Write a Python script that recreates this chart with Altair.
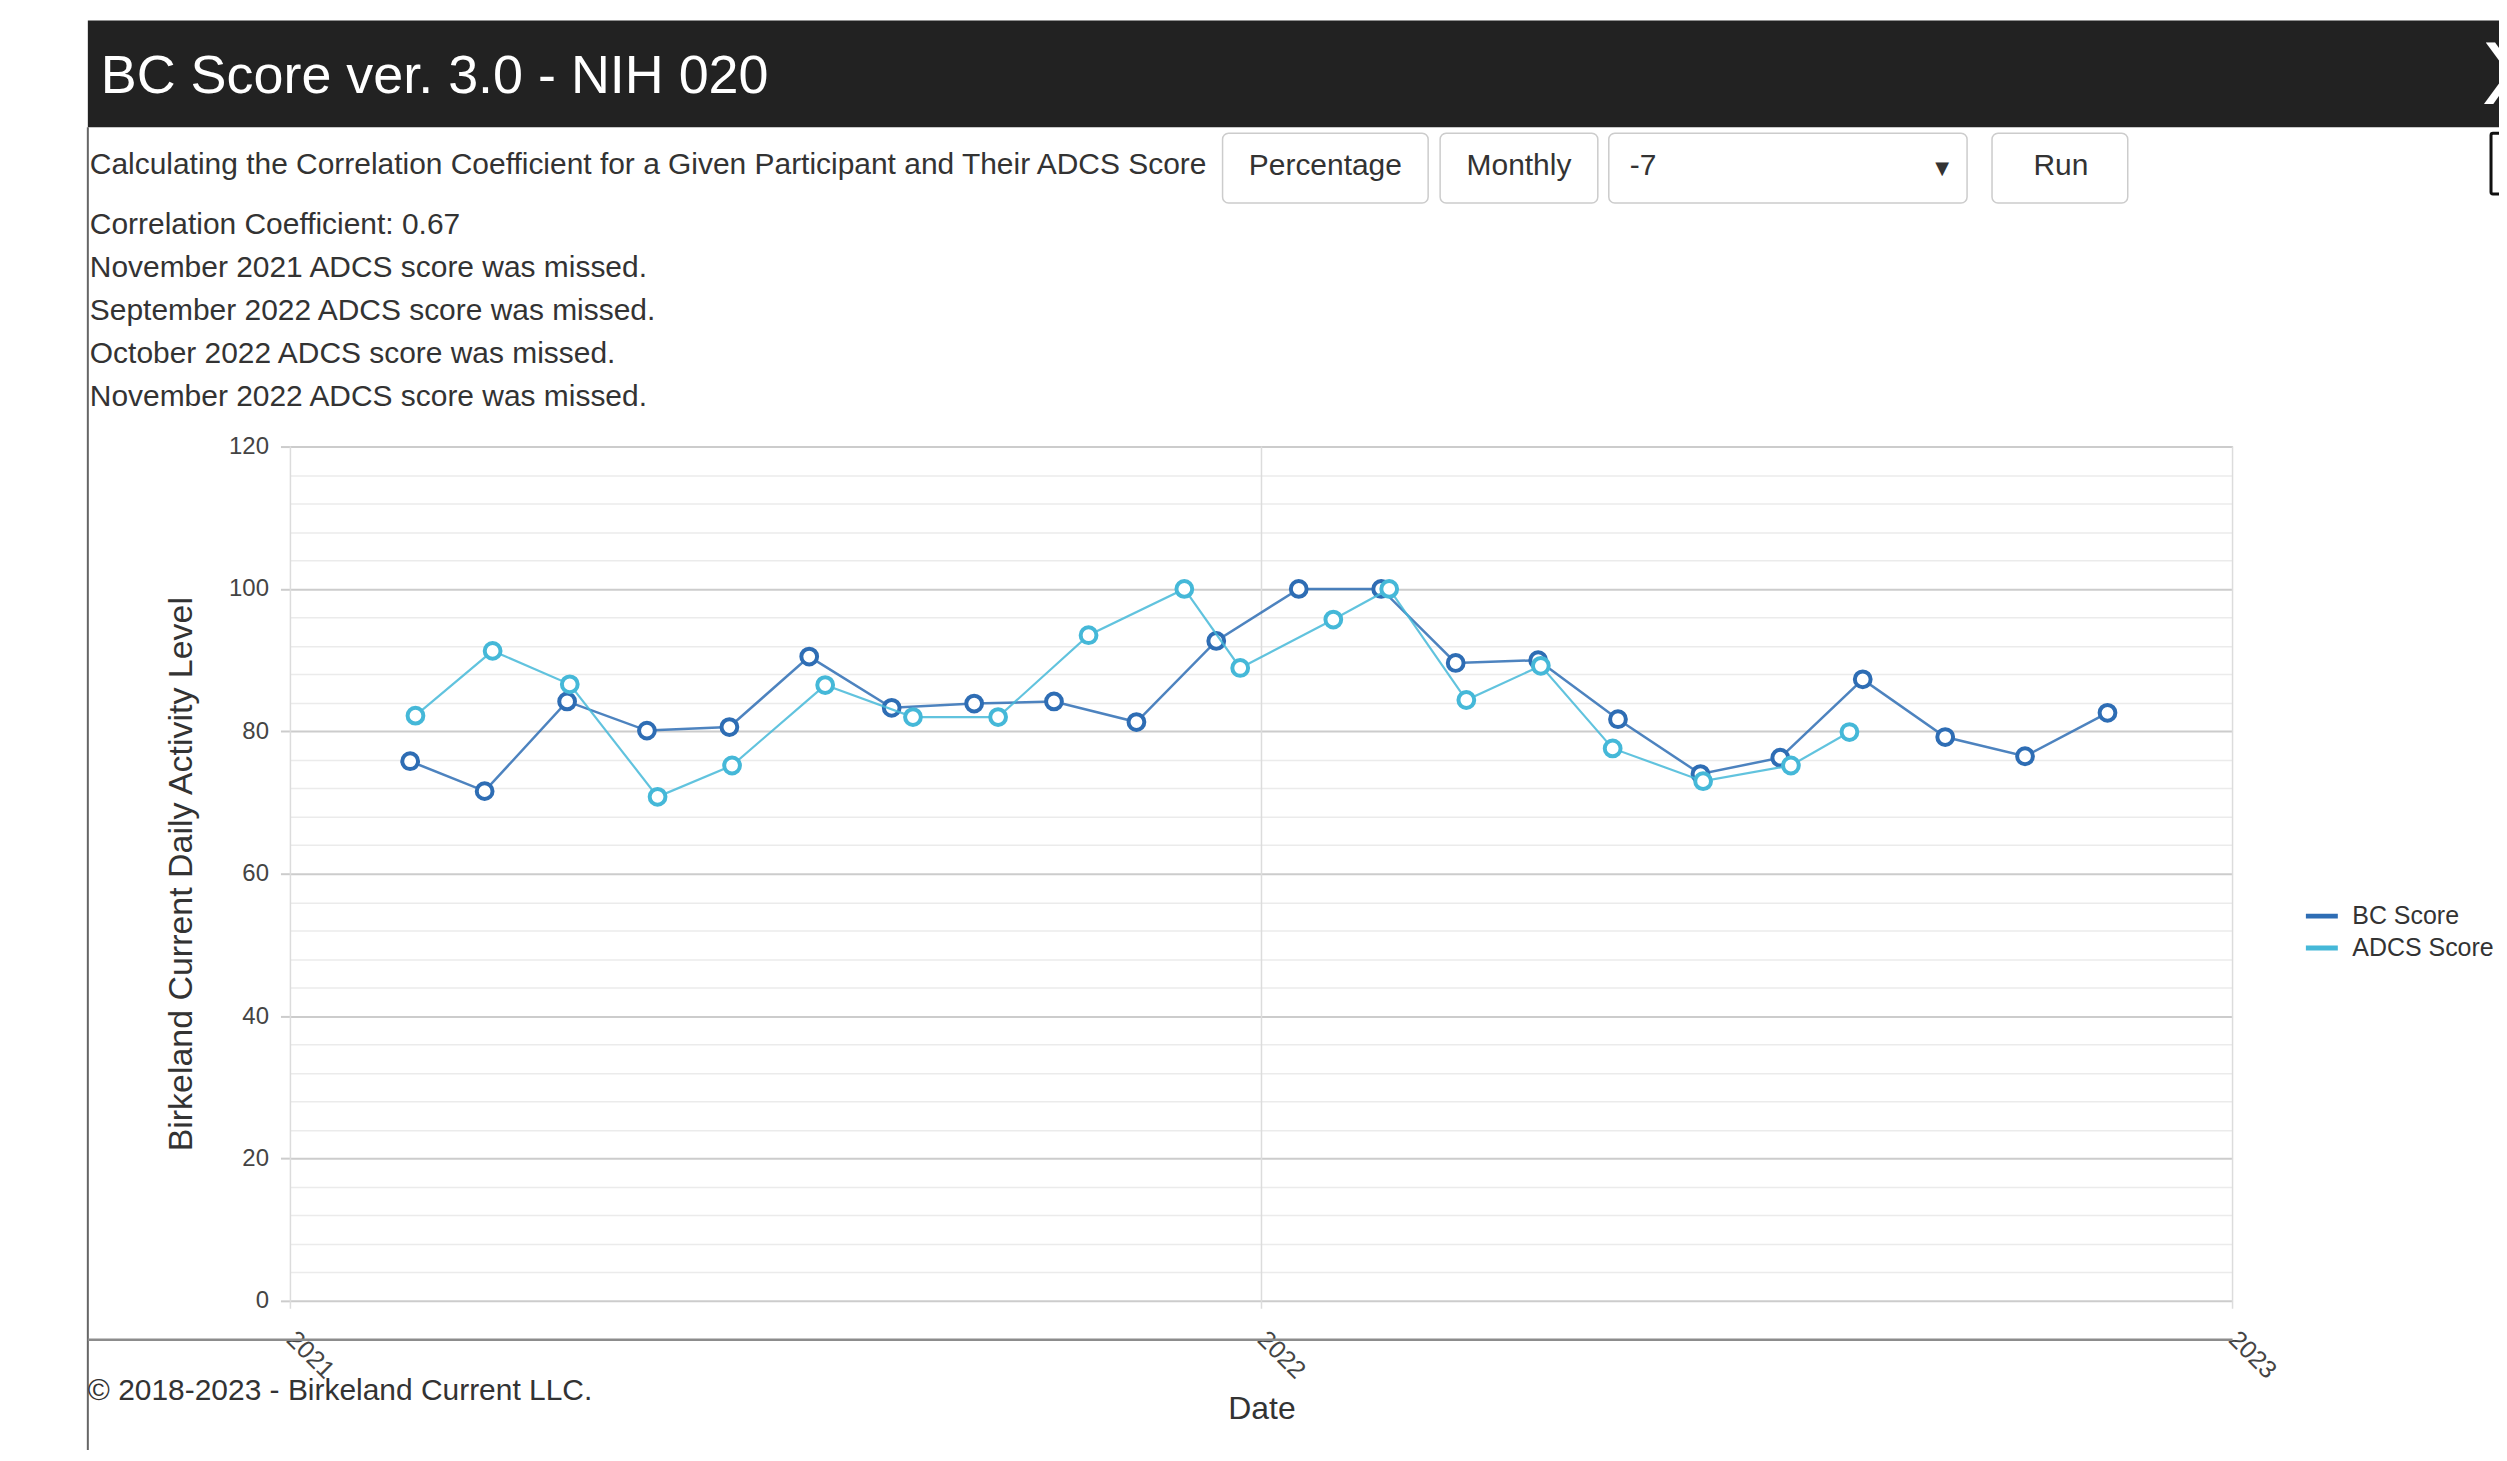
import altair as alt
import pandas as pd

FONT = "Liberation Sans"

# ---------------- data ----------------
series_names = ["BC Score", "ADCS Score"]

bc_dates = ["2021-02-15", "2021-03-15", "2021-04-15", "2021-05-15", "2021-06-15",
            "2021-07-15", "2021-08-15", "2021-09-15", "2021-10-15", "2021-11-15",
            "2021-12-15", "2022-01-15", "2022-02-15", "2022-03-15", "2022-04-15",
            "2022-05-15", "2022-06-15", "2022-07-15", "2022-08-15", "2022-09-15",
            "2022-10-15", "2022-11-15"]
bc_values = [75.8, 71.6, 84.2, 80.1, 80.6, 90.5, 83.3, 83.9, 84.2, 81.3, 92.7,
             100.0, 100.0, 89.6, 90.0, 81.7, 74.0, 76.3, 87.3, 79.2, 76.5, 82.6]

adcs_dates = ["2021-02-17", "2021-03-18", "2021-04-16", "2021-05-19", "2021-06-16",
              "2021-07-21", "2021-08-23", "2021-09-24", "2021-10-28", "2021-12-03",
              "2021-12-24", "2022-01-28", "2022-02-18", "2022-03-19", "2022-04-16",
              "2022-05-13", "2022-06-16", "2022-07-19", "2022-08-10"]
adcs_values = [82.2, 91.3, 86.6, 70.8, 75.2, 86.5, 82.0, 82.0, 93.5, 100.0,
               88.9, 95.7, 100.0, 84.4, 89.2, 77.6, 73.0, 75.2, 79.9]

year_ticks = [2021, 2022, 2023]
y_grid_values = list(range(0, 121, 4))

title_text = "BC Score ver. 3.0 - NIH 020"
subtitle_text = "Calculating the Correlation Coefficient for a Given Participant and Their ADCS Score"
info_lines = ["Correlation Coefficient: 0.67",
              "November 2021 ADCS score was missed.",
              "September 2022 ADCS score was missed.",
              "October 2022 ADCS score was missed.",
              "November 2022 ADCS score was missed."]
button_labels = ["Percentage", "Monthly", "-7", "Run"]
copyright_text = "\u00a9 2018-2023 - Birkeland Current LLC."
y_title = "Birkeland Current Daily Activity Level"
x_title = "Date"

# ---------------- tables ----------------
df_bc = pd.DataFrame({"date": pd.to_datetime(bc_dates), "value": bc_values,
                      "series": series_names[0]})
df_adcs = pd.DataFrame({"date": pd.to_datetime(adcs_dates), "value": adcs_values,
                        "series": series_names[1]})
df_years = pd.DataFrame({"date": pd.to_datetime([f"{y}-01-01" for y in year_ticks])})
one = pd.DataFrame({"k": [0]})

DARK = "#2e6db4"
LIGHT = "#45b8d8"

# layout (page pixels)
LEFT, TOP = 283, 438
W, H = 1946, 856
OX, OY = 8 + LEFT, 8 + TOP          # page position of the plot's top-left corner


def rx(x):
    return x - OX


def ry(y):
    return y - OY


major = "datum.value % 20 === 0"
y_axis = alt.Axis(
    values=y_grid_values,
    title=y_title, titleFont=FONT, titleFontSize=34, titleFontWeight="normal",
    titleColor="#333333", titleAngle=270, titleX=rx(182), titleY=H / 2,
    titleAlign="center", titleBaseline="middle",
    labelExpr=f"{major} ? datum.label : ''",
    labelFont=FONT, labelFontSize=24, labelColor="#444444", labelPadding=12,
    tickSize=10, tickWidth=2,
    tickColor={"condition": {"test": major, "value": "#cccccc"}, "value": "transparent"},
    gridColor={"condition": {"test": major, "value": "#cccccc"}, "value": "#ebebeb"},
    gridWidth={"condition": {"test": major, "value": 2}, "value": 1.5},
    domain=False, labelOverlap=False,
)
x_axis = alt.Axis(
    values=[alt.DateTime(year=y, month=1, date=1) for y in year_ticks],
    format="%Y", labelAngle=45, labelAlign="left", labelBaseline="middle",
    labelFont=FONT, labelFontSize=25, labelColor="#444444",
    ticks=False, tickSize=0, domain=False, grid=False, offset=38, labelPadding=-4,
    labelFlush=False, labelOverlap=False,
    title=x_title, titleFont=FONT, titleFontSize=32, titleFontWeight="normal",
    titleColor="#333333", titleY=1420 - (OY + H + 38), titleBaseline="alphabetic",
)

X = alt.X("date:T", axis=x_axis,
          scale=alt.Scale(domain=[alt.DateTime(year=2021, month=1, date=1),
                                  alt.DateTime(year=2023, month=1, date=1)]))
Y = alt.Y("value:Q", axis=y_axis, scale=alt.Scale(domain=[0, 120], nice=False))

legend = alt.Legend(title=None, orient="none", legendX=rx(2308), legendY=ry(898),
                    symbolType="stroke", symbolSize=1024, symbolStrokeWidth=5,
                    labelFont=FONT, labelFontSize=25, labelColor="#333333",
                    labelOffset=12, rowPadding=-9.5, padding=0, symbolOpacity=1)
C = alt.Color("series:N", scale=alt.Scale(domain=series_names, range=[DARK, LIGHT]),
              legend=legend)

year_rules = alt.Chart(df_years).mark_rule(color="#dcdcdc", strokeWidth=1.5).encode(
    x=X, y=alt.value(0), y2=alt.value(H + 8))


def series_layers(df, lw):
    line = alt.Chart(df).mark_line(strokeWidth=lw, opacity=0.85).encode(x=X, y=Y, color=C)
    pts = alt.Chart(df).mark_point(shape="circle", filled=False, fill="white", size=250,
                                   strokeWidth=4, opacity=1).encode(x=X, y=Y, color=C)
    return [line, pts]


def txt(s, x, y, size, color="#333333", align="left", baseline="alphabetic", font=FONT):
    return alt.Chart(one).mark_text(text=s, align=align, baseline=baseline, font=font,
                                    fontSize=size, color=color).encode(
        x=alt.value(rx(x)), y=alt.value(ry(y)))


def box(x1, x2, y1, y2, fill, stroke=None, sw=0, r=0):
    kw = dict(fill=fill, cornerRadius=r)
    if stroke is not None:
        kw.update(stroke=stroke, strokeWidth=sw)
    return alt.Chart(one).mark_rect(**kw).encode(
        x=alt.value(rx(x1)), x2=alt.value(rx(x2)), y=alt.value(ry(y1)), y2=alt.value(ry(y2)))


def hrule(x1, x2, y, color, sw):
    return alt.Chart(one).mark_rule(color=color, strokeWidth=sw).encode(
        x=alt.value(rx(x1)), x2=alt.value(rx(x2)), y=alt.value(ry(y)))


def vrule(x, y1, y2, color, sw):
    return alt.Chart(one).mark_rule(color=color, strokeWidth=sw).encode(
        x=alt.value(rx(x)), y=alt.value(ry(y1)), y2=alt.value(ry(y2)))


deco = [
    # header bar
    box(88, 2520, 19, 126, "#222222"),
    txt(title_text, 101, 92, 54, "#ffffff"),
    txt("X", 2487, 103, 90, "#ffffff"),
    # left border of panel
    vrule(88, 126, 1470, "#666666", 2),
    # subtitle and buttons
    txt(subtitle_text, 90, 173.3, 30),
    box(1225, 1431, 132, 202, "#ffffff", "#cccccc", 1.5, 6),
    box(1443, 1601, 132, 202, "#ffffff", "#cccccc", 1.5, 6),
    box(1612, 1971, 132, 202, "#ffffff", "#cccccc", 1.5, 6),
    box(1996, 2132, 132, 202, "#ffffff", "#cccccc", 1.5, 6),
    txt(button_labels[0], 1328, 174, 30, align="center"),
    txt(button_labels[1], 1522, 174, 30, align="center"),
    txt(button_labels[2], 1633, 174, 30),
    txt("\u25bc", 1946, 173, 18, "#333333", align="center", font="DejaVu Sans"),
    txt(button_labels[3], 2065, 174, 30, align="center"),
    box(2496, 2530, 132, 193, "#ffffff", "#111111", 3, 2),
    # info lines
    txt(info_lines[0], 90, 233.3, 30),
    txt(info_lines[1], 90, 276.3, 30),
    txt(info_lines[2], 90, 319.3, 30),
    txt(info_lines[3], 90, 362.3, 30),
    txt(info_lines[4], 90, 405.3, 30),
    # long x-axis line and footer
    hrule(88, OX + W, OY + H + 39, "#8c8c8c", 2.5),
    txt(copyright_text, 88, 1401.7, 30),
]

layers = [year_rules] + series_layers(df_bc, 2.5) + series_layers(df_adcs, 2.2) + deco

chart = alt.layer(*layers).properties(
    width=W, height=H,
    autosize=alt.AutoSizeParams(type="none"),
    padding={"left": LEFT, "top": TOP, "right": 2496 - LEFT - W, "bottom": 1442 - TOP - H},
    background="white",
).configure_view(strokeWidth=0)

chart.save("out.html", embed_options={"renderer": "svg", "actions": False})
